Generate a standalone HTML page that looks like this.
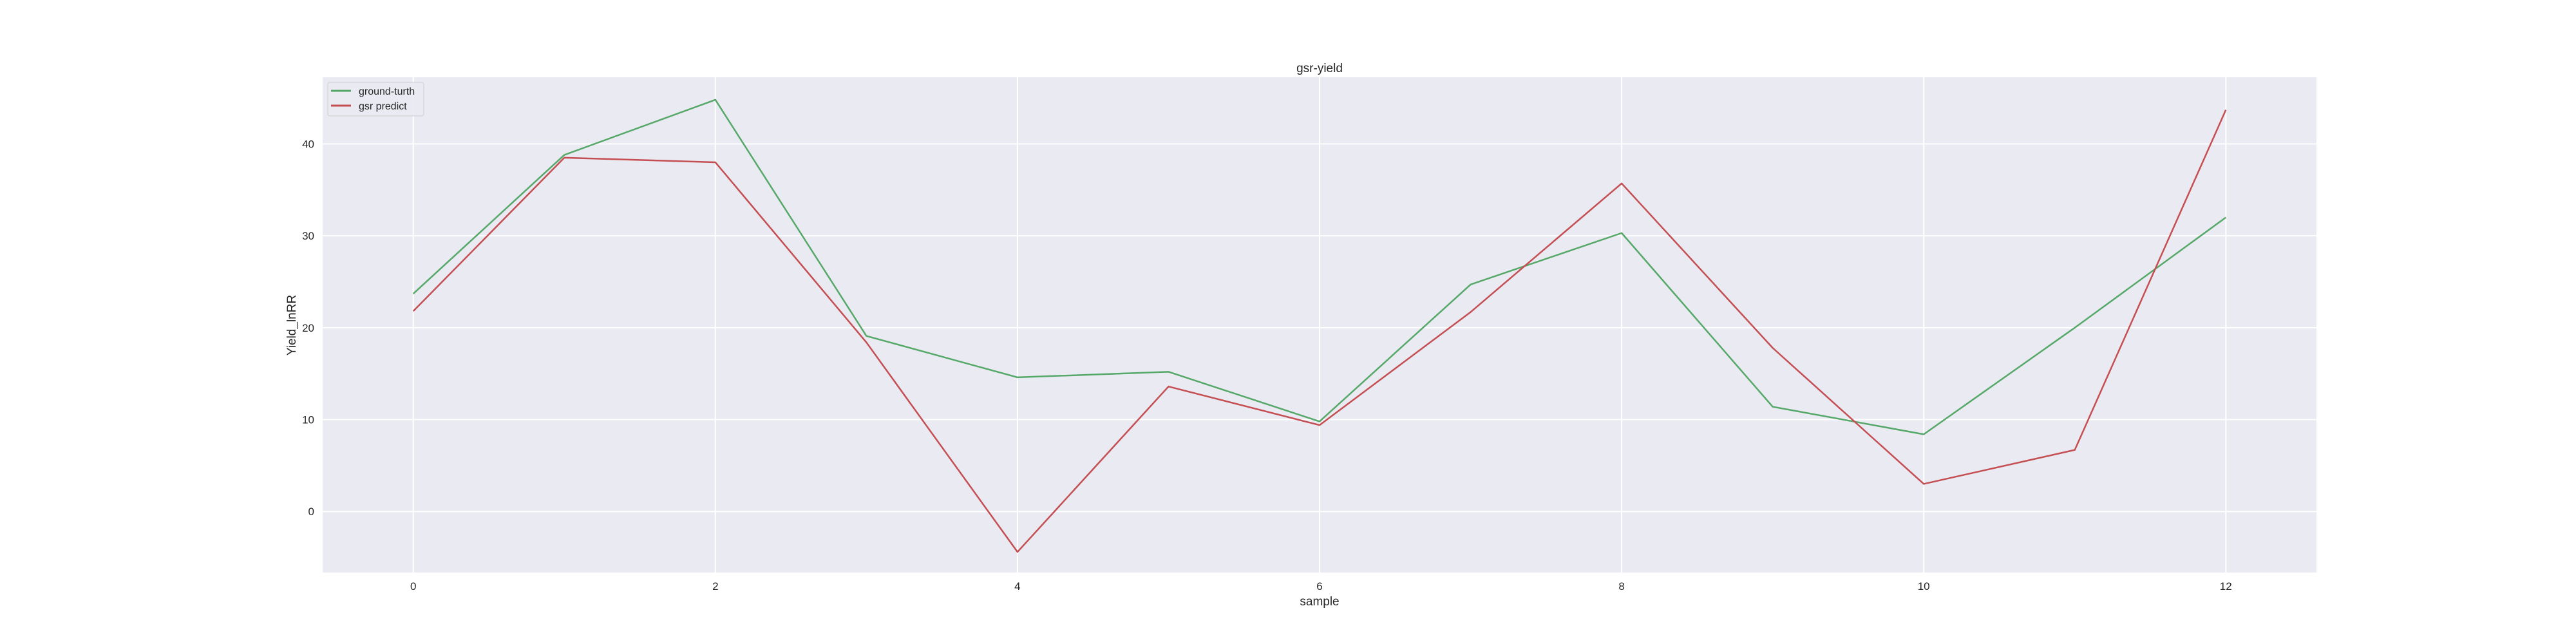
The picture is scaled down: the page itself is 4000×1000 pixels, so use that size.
<!DOCTYPE html>
<html><head><meta charset="utf-8"><style>
html,body{margin:0;padding:0;background:#fff;width:4000px;height:1000px;overflow:hidden}
svg text{font-family:"Liberation Sans","Noto Sans CJK SC",sans-serif;fill:#262626}
</style></head><body>
<svg id="chart" width="4000" height="1000" xmlns="http://www.w3.org/2000/svg">
<rect x="501" y="120" width="3096" height="769" fill="#eaeaf2"/>
<g id="grid"></g><g id="lines"></g><g id="ticks"></g>
<text x="2049" y="112" font-size="19" text-anchor="middle">gsr-yield</text>
<text x="2049" y="940" font-size="19" text-anchor="middle">sample</text>
<text x="459" y="505" font-size="19" text-anchor="middle" transform="rotate(-90 459 505)">Yield_lnRR</text>
<g>
<rect x="509" y="128" width="149" height="52" rx="3" fill="#eaeaf2" stroke="#cccccc" stroke-width="1" opacity="0.9"/>
<line x1="514" y1="141" x2="545" y2="141" stroke="#55a868" stroke-width="3"/>
<text x="557" y="147" font-size="16">ground-turth</text>
<line x1="514" y1="164" x2="545" y2="164" stroke="#c44e52" stroke-width="3"/>
<text x="557" y="170" font-size="16">gsr predict</text>
</g>
</svg>
<script>
const samples=[0,1,2,3,4,5,6,7,8,9,10,11,12];
const groundTruth=[23.7,38.8,44.8,19.1,14.6,15.2,9.8,24.7,30.3,11.4,8.4,20.0,32.0];
const gsrPredict=[21.8,38.5,38.0,18.4,-4.4,13.6,9.4,21.7,35.7,17.8,3.0,6.7,43.7];
const xTicks=[0,2,4,6,8,10,12];
const yTicks=[0,10,20,30,40];
const NS="http://www.w3.org/2000/svg";
const X0=501,X1=3597,Y0=120,Y1=889;
const xmin=-0.6,xmax=12.6,ymin=-6.64,ymax=47.25;
function sx(v){return X0+(v-xmin)/(xmax-xmin)*(X1-X0);}
function sy(v){return Y1-(v-ymin)/(ymax-ymin)*(Y1-Y0);}
function mk(t,a,p){const e=document.createElementNS(NS,t);for(const k in a)e.setAttribute(k,a[k]);p.appendChild(e);return e;}
const grid=document.getElementById('grid'),ticks=document.getElementById('ticks'),lines=document.getElementById('lines');
xTicks.forEach(v=>{
 const g=mk('line',{x1:sx(v),x2:sx(v),y1:Y0,y2:Y1,stroke:'#fff','stroke-width':2},grid);
 
 
 const t=mk('text',{x:sx(v),y:916,'font-size':17,'text-anchor':'middle'},ticks);t.textContent=v;
 
 
});
yTicks.forEach(v=>{
 const g=mk('line',{x1:X0,x2:X1,y1:sy(v),y2:sy(v),stroke:'#fff','stroke-width':2},grid);
 
 
 const t=mk('text',{x:488,y:sy(v)+6,'font-size':17,'text-anchor':'end'},ticks);t.textContent=v;
 
 
});
function series(vals,color,name){
 const p=mk('polyline',{points:vals.map((v,i)=>sx(samples[i])+','+sy(v)).join(' '),fill:'none',stroke:color,'stroke-width':2.5,'stroke-linejoin':'round'},lines);
 
 
}
series(groundTruth,'#55a868','ground-truth-line');
series(gsrPredict,'#c44e52','gsr-predict-line');
</script>
</body></html>
